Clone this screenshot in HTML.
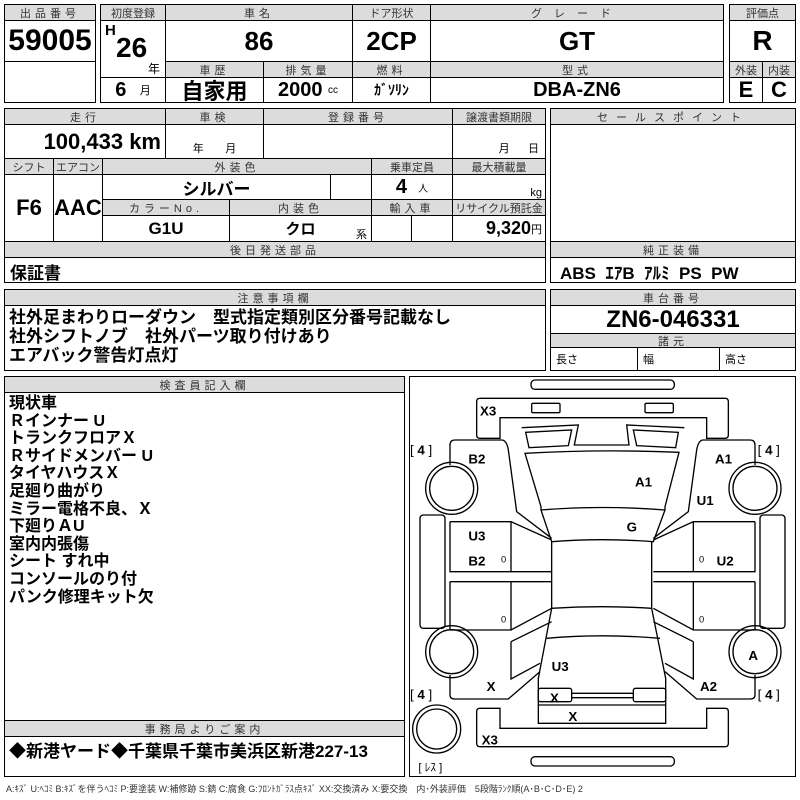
<!DOCTYPE html>
<html><head><meta charset="utf-8">
<style>
*{margin:0;padding:0;box-sizing:border-box}
body{width:800px;height:800px;background:#fff;position:relative;overflow:hidden;font-family:"Liberation Sans","Noto Sans CJK JP",sans-serif;color:#000}
.c{position:absolute;border:1px solid #000;display:flex;align-items:center;justify-content:center;white-space:nowrap;overflow:hidden}
.h{background:#dcdcdc;font-size:11px;letter-spacing:4px;color:#333;height:17px}
.v{font-weight:bold;font-size:22px;font-family:"Liberation Sans Narrow","Liberation Sans","Noto Sans CJK JP",sans-serif}
.o{position:absolute;border:1.5px solid #000}
.t{position:absolute;white-space:nowrap}
</style></head><body>
<!-- box1 -->
<div class="o" style="left:4px;top:4px;width:92px;height:99px"></div>
<div class="c h" style="left:4px;top:4px;width:92px">出品番号</div>
<div class="c v" style="left:4px;top:20px;width:92px;height:42px;font-size:30px">59005</div>
<!-- box2 -->
<div class="o" style="left:100px;top:4px;width:624px;height:99px"></div>
<div class="c h" style="left:100px;top:4px;width:66px;letter-spacing:0">初度登録</div>
<div class="c h" style="left:165px;top:4px;width:188px">車名</div>
<div class="c h" style="left:352px;top:4px;width:79px;letter-spacing:0">ドア形状</div>
<div class="c h" style="left:430px;top:4px;width:294px;letter-spacing:12px">グレード</div>
<div class="c" style="left:100px;top:20px;width:66px;height:58px"></div>
<div class="t v" style="left:105px;top:22px;font-size:15px">H</div>
<div class="t v" style="left:116px;top:32px;font-size:28px">26</div>
<div class="t" style="left:148px;top:60px;font-size:12px">年</div>
<div class="c v" style="left:165px;top:20px;width:188px;height:42px;font-size:26px">86</div>
<div class="c v" style="left:352px;top:20px;width:79px;height:42px;font-size:26px">2CP</div>
<div class="c v" style="left:430px;top:20px;width:294px;height:42px;font-size:26px">GT</div>
<div class="c h" style="left:165px;top:61px;width:99px">車歴</div>
<div class="c h" style="left:263px;top:61px;width:90px">排気量</div>
<div class="c h" style="left:352px;top:61px;width:79px">燃料</div>
<div class="c h" style="left:430px;top:61px;width:294px">型式</div>
<div class="c" style="left:100px;top:77px;width:66px;height:26px"><b style="font-size:20px">6</b>&nbsp;&nbsp;&nbsp;<span style="font-size:11px">月</span></div>
<div class="c v" style="left:165px;top:77px;width:99px;height:26px;font-size:22px">自家用</div>
<div class="c v" style="left:263px;top:77px;width:90px;height:26px;font-size:20px">2000&nbsp;<span style="font-size:10px;font-weight:normal">cc</span></div>
<div class="c v" style="left:352px;top:77px;width:79px;height:26px;font-size:14px">ｶﾞｿﾘﾝ</div>
<div class="c v" style="left:430px;top:77px;width:294px;height:26px;font-size:20px">DBA-ZN6</div>
<!-- box3 -->
<div class="o" style="left:729px;top:4px;width:67px;height:99px"></div>
<div class="c h" style="left:729px;top:4px;width:67px;letter-spacing:0">評価点</div>
<div class="c v" style="left:729px;top:20px;width:67px;height:42px;font-size:28px">R</div>
<div class="c h" style="left:729px;top:61px;width:34px;letter-spacing:0">外装</div>
<div class="c h" style="left:762px;top:61px;width:34px;letter-spacing:0">内装</div>
<div class="c v" style="left:729px;top:77px;width:34px;height:26px;font-size:22px">E</div>
<div class="c v" style="left:762px;top:77px;width:34px;height:26px;font-size:22px">C</div>
<!-- row2 left -->
<div class="o" style="left:4px;top:108px;width:542px;height:175px"></div>
<div class="c h" style="left:4px;top:108px;width:162px">走行</div>
<div class="c h" style="left:165px;top:108px;width:99px">車検</div>
<div class="c h" style="left:263px;top:108px;width:190px">登録番号</div>
<div class="c h" style="left:452px;top:108px;width:94px;letter-spacing:0">譲渡書類期限</div>
<div class="c v" style="left:4px;top:124px;width:162px;height:35px;justify-content:flex-end;padding-right:4px;font-size:22px">100,433 km</div>
<div class="c" style="left:165px;top:124px;width:99px;height:35px;align-items:flex-end;font-size:11px;padding-bottom:2px">年&nbsp;&nbsp;&nbsp;&nbsp;&nbsp;&nbsp;&nbsp;月</div>
<div class="c" style="left:263px;top:124px;width:190px;height:35px"></div>
<div class="c" style="left:452px;top:124px;width:94px;height:35px;align-items:flex-end;font-size:11px;padding-bottom:2px;justify-content:flex-end;padding-right:6px">月&nbsp;&nbsp;&nbsp;&nbsp;&nbsp;&nbsp;日</div>
<div class="c h" style="left:4px;top:158px;width:50px;letter-spacing:0">シフト</div>
<div class="c h" style="left:53px;top:158px;width:50px;letter-spacing:0">エアコン</div>
<div class="c h" style="left:102px;top:158px;width:270px">外装色</div>
<div class="c h" style="left:371px;top:158px;width:82px;letter-spacing:0">乗車定員</div>
<div class="c h" style="left:452px;top:158px;width:94px;letter-spacing:0">最大積載量</div>
<div class="c v" style="left:4px;top:174px;width:50px;height:68px">F6</div>
<div class="c v" style="left:53px;top:174px;width:50px;height:68px">AAC</div>
<div class="c v" style="left:102px;top:174px;width:229px;height:26px;font-size:17px">シルバー</div>
<div class="c" style="left:330px;top:174px;width:42px;height:26px"></div>
<div class="c v" style="left:371px;top:174px;width:82px;height:26px;font-size:20px">4&nbsp;&nbsp;<span style="font-size:10px;font-weight:normal">人</span></div>
<div class="c" style="left:452px;top:174px;width:94px;height:26px;justify-content:flex-end;align-items:flex-end;padding-right:3px;font-size:11px">kg</div>
<div class="c h" style="left:102px;top:199px;width:128px">カラーNo.</div>
<div class="c h" style="left:229px;top:199px;width:143px">内装色</div>
<div class="c h" style="left:371px;top:199px;width:82px">輸入車</div>
<div class="c h" style="left:452px;top:199px;width:94px;letter-spacing:0">リサイクル預託金</div>
<div class="c v" style="left:102px;top:215px;width:128px;height:27px;font-size:17px">G1U</div>
<div class="c v" style="left:229px;top:215px;width:143px;height:27px;font-size:15px">クロ</div>
<div class="t" style="left:356px;top:226px;font-size:11px">系</div>
<div class="c" style="left:371px;top:215px;width:41px;height:27px"></div>
<div class="c" style="left:411px;top:215px;width:42px;height:27px"></div>
<div class="c v" style="left:452px;top:215px;width:94px;height:27px;font-size:18px;justify-content:flex-end;padding-right:3px">9,320<span style="font-size:11px;font-weight:normal">円</span></div>
<div class="c h" style="left:4px;top:241px;width:542px">後日発送部品</div>
<div class="t v" style="left:10px;top:259px;font-size:17px">保証書</div>
<!-- row2 right -->
<div class="o" style="left:550px;top:108px;width:246px;height:175px"></div>
<div class="c h" style="left:550px;top:108px;width:246px;letter-spacing:8px">セールスポイント</div>
<div class="c h" style="left:550px;top:241px;width:246px">純正装備</div>
<div class="t v" style="left:560px;top:259px;font-size:17px">ABS&nbsp;&nbsp;ｴｱB&nbsp;&nbsp;ｱﾙﾐ&nbsp;&nbsp;PS&nbsp;&nbsp;PW</div>
<!-- row3 -->
<div class="o" style="left:4px;top:289px;width:542px;height:82px"></div>
<div class="c h" style="left:4px;top:289px;width:542px">注意事項欄</div>
<div class="t" style="left:9px;top:308px;font-size:17px;font-weight:bold;line-height:19px">社外足まわりローダウン　型式指定類別区分番号記載なし<br>社外シフトノブ　社外パーツ取り付けあり<br>エアバック警告灯点灯</div>
<div class="o" style="left:550px;top:289px;width:246px;height:82px"></div>
<div class="c h" style="left:550px;top:289px;width:246px">車台番号</div>
<div class="c v" style="left:550px;top:305px;width:246px;height:29px;font-size:24px">ZN6-046331</div>
<div class="c h" style="left:550px;top:333px;width:246px;height:15px">諸元</div>
<div class="c" style="left:550px;top:347px;width:88px;height:24px;justify-content:flex-start;padding-left:5px;font-size:11px">長さ</div>
<div class="c" style="left:637px;top:347px;width:83px;height:24px;justify-content:flex-start;padding-left:5px;font-size:11px">幅</div>
<div class="c" style="left:719px;top:347px;width:77px;height:24px;justify-content:flex-start;padding-left:5px;font-size:11px">高さ</div>
<!-- row4 left -->
<div class="o" style="left:4px;top:376px;width:401px;height:401px"></div>
<div class="c h" style="left:4px;top:376px;width:401px">検査員記入欄</div>
<div class="t" style="left:9px;top:395px;font-size:16px;font-weight:bold;line-height:17.6px">現状車<br>Ｒインナー U<br>トランクフロアＸ<br>Ｒサイドメンバー U<br>タイヤハウスＸ<br>足廻り曲がり<br>ミラー電格不良、Ｘ<br>下廻りＡU<br>室内内張傷<br>シート すれ中<br>コンソールのり付<br>パンク修理キット欠</div>
<div class="c h" style="left:4px;top:720px;width:401px">事務局よりご案内</div>
<div class="t" style="left:9px;top:737px;font-size:17px;font-weight:bold">◆新港ヤード◆千葉県千葉市美浜区新港227-13</div>
<!-- diagram -->
<div class="o" style="left:409px;top:376px;width:387px;height:401px"></div>
<svg style="position:absolute;left:405px;top:375px" width="395" height="405" viewBox="0 0 1185 1215" fill="none" stroke="#000" stroke-width="4">
<rect x="378" y="15" width="430" height="28" rx="12"/>
<path d="M215,80 Q215,70 225,70 L960,70 Q970,70 970,80 L970,180 Q970,190 960,190 L905,190 L905,128 L285,128 L285,190 L225,190 Q215,190 215,180 Z"/>
<rect x="380" y="85" width="85" height="28" rx="4"/>
<rect x="720" y="85" width="85" height="28" rx="4"/>
<path d="M350,158 L520,150 L508,210 L672,210 L665,150 L838,158"/>
<path d="M362,172 L500,165 L490,212 L372,218 Z"/>
<path d="M685,165 L820,172 L812,218 L695,212 Z"/>
<path d="M360,235 Q590,222 822,232 L780,395 L780,405 L745,500 Q590,488 440,500 L408,405 L408,395 Z"/>
<path d="M408,405 Q590,390 780,405"/>
<path d="M135,270 L135,210 Q135,195 150,195 L290,195 Q305,195 310,225 L335,410 L440,490"/>
<path d="M1050,270 L1050,210 Q1050,195 1035,195 L895,195 Q880,195 875,225 L850,410 L745,490"/>
<rect x="45" y="420" width="75" height="340" rx="10"/>
<rect x="1065" y="420" width="75" height="340" rx="10"/>
<circle cx="140" cy="340" r="78"/><circle cx="140" cy="340" r="66"/>
<circle cx="1050" cy="340" r="78"/><circle cx="1050" cy="340" r="66"/>
<circle cx="140" cy="830" r="78"/><circle cx="140" cy="830" r="66"/>
<circle cx="1050" cy="830" r="78"/><circle cx="1050" cy="830" r="66"/>
<circle cx="95" cy="1062" r="72"/><circle cx="95" cy="1062" r="60"/>
<path d="M135,440 L318,440 L440,495 M318,440 L318,590 M135,440 L135,590 L440,590 M135,620 L440,620 M135,620 L135,765 L318,765 L440,700 M318,620 L318,765"/>
<path d="M1050,440 L865,440 L745,495 M865,440 L865,590 M1050,440 L1050,590 L745,590 M1050,620 L745,620 M1050,620 L1050,765 L865,765 L745,700 M865,620 L865,765"/>
<path d="M440,500 L440,700 Q590,690 740,700 L740,500"/>
<path d="M440,700 L400,910 L400,1045 L782,1045 L782,910 L740,700"/>
<path d="M425,790 Q590,775 765,790"/>
<path d="M318,800 L440,740 M318,800 L318,912 L405,865"/>
<path d="M865,800 L745,740 M865,800 L865,912 L780,865"/>
<path d="M135,900 L135,960 Q135,972 150,972 L310,972 L405,890"/>
<path d="M1050,900 L1050,960 Q1050,972 1035,972 L875,972 L780,890"/>
<rect x="400" y="940" width="100" height="40" rx="6"/>
<rect x="685" y="940" width="97" height="40" rx="6"/>
<path d="M500,955 L685,955 M500,968 L685,968 M400,990 L782,990"/>
<path d="M215,1010 Q215,1000 225,1000 L285,1000 L285,1060 L905,1060 L905,1000 L960,1000 Q970,1000 970,1010 L970,1105 Q970,1115 960,1115 L225,1115 Q215,1115 215,1105 Z"/>
<rect x="378" y="1145" width="430" height="28" rx="12"/>
<g fill="#000" stroke="none" font-family="Liberation Sans,sans-serif" font-weight="bold" font-size="40">
<text x="225" y="122">X3</text><text x="190" y="265">B2</text><text x="690" y="335">A1</text>
<text x="875" y="390">U1</text><text x="930" y="265">A1</text><text x="665" y="470">G</text>
<text x="190" y="497">U3</text><text x="190" y="572">B2</text><text x="935" y="572">U2</text>
<text x="1030" y="855">A</text><text x="440" y="888">U3</text><text x="245" y="948">X</text>
<text x="885" y="948">A2</text><text x="435" y="982">X</text><text x="490" y="1038">X</text>
<text x="230" y="1108">X3</text>
<text x="15" y="238" font-weight="normal">[ <tspan font-weight="bold">4</tspan> ]</text>
<text x="1058" y="238" font-weight="normal">[ <tspan font-weight="bold">4</tspan> ]</text>
<text x="15" y="972" font-weight="normal">[ <tspan font-weight="bold">4</tspan> ]</text>
<text x="1058" y="972" font-weight="normal">[ <tspan font-weight="bold">4</tspan> ]</text>
<text x="40" y="1188" font-weight="normal" font-size="34" font-family="Liberation Sans,Noto Sans CJK JP,sans-serif">[ ﾚｽ ]</text>
<text x="288" y="562" font-size="28" font-weight="normal">0</text><text x="288" y="742" font-size="28" font-weight="normal">0</text>
<text x="882" y="562" font-size="28" font-weight="normal">0</text><text x="882" y="742" font-size="28" font-weight="normal">0</text>
</g>
</svg>
<div class="t" style="left:6px;top:782px;font-size:9px;color:#333">A:ｷｽﾞ U:ﾍｺﾐ B:ｷｽﾞを伴うﾍｺﾐ P:要塗装 W:補修跡 S:錆 C:腐食 G:ﾌﾛﾝﾄｶﾞﾗｽ点ｷｽﾞ XX:交換済み X:要交換　内･外装評価　5段階ﾗﾝｸ順(A･B･C･D･E) 2</div>
</body></html>
